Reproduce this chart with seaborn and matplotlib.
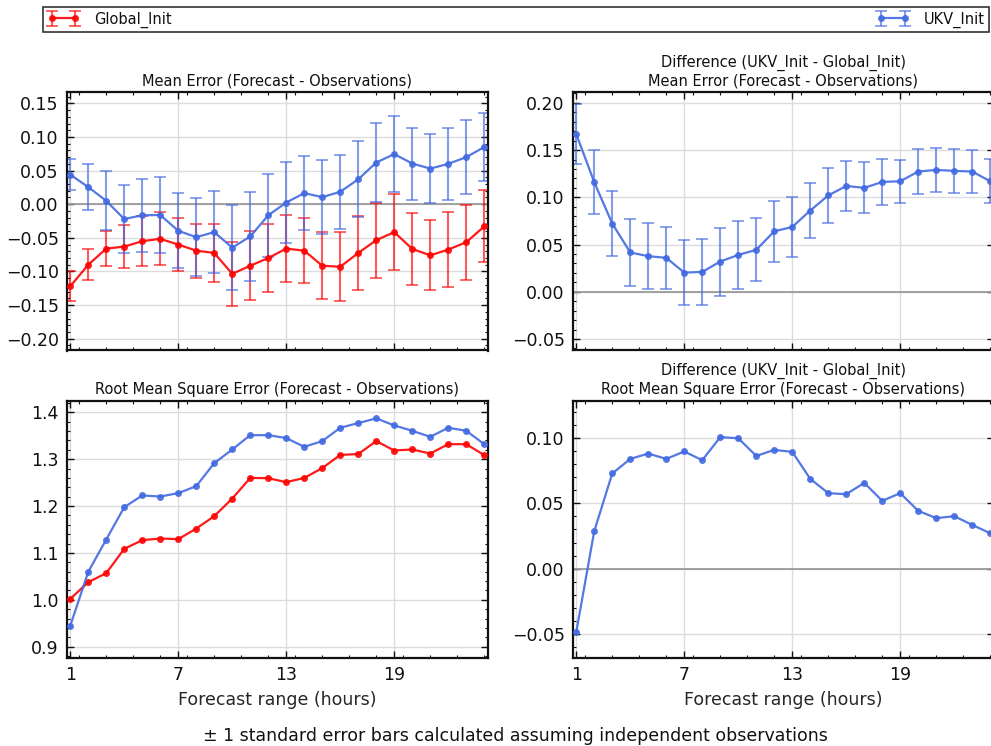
import numpy as np
import pandas as pd
import matplotlib
matplotlib.use("Agg")
import matplotlib.pyplot as plt
import seaborn as sns
from matplotlib.ticker import AutoMinorLocator, FixedLocator, MultipleLocator

# ---------------- data ----------------
hours = list(range(1, 25))
xtick_values = [1, 7, 13, 19]

me_global = [-0.122, -0.090, -0.066, -0.063, -0.055, -0.0515, -0.060, -0.069, -0.0725, -0.1035,
             -0.0915, -0.080, -0.066, -0.069, -0.0915, -0.093, -0.0725, -0.0535, -0.0415, -0.0665,
             -0.076, -0.0675, -0.0565, -0.033]
me_global_err = [0.022, 0.023, 0.026, 0.032, 0.037, 0.0395, 0.039, 0.040, 0.043, 0.048,
                 0.0515, 0.051, 0.050, 0.0485, 0.050, 0.0515, 0.0545, 0.056, 0.0565, 0.054,
                 0.052, 0.056, 0.056, 0.0535]
me_ukv = [0.044, 0.0255, 0.005, -0.022, -0.0165, -0.016, -0.0395, -0.049, -0.0415, -0.0645,
          -0.048, -0.0165, 0.0025, 0.0165, 0.0105, 0.0185, 0.037, 0.062, 0.0745, 0.0605,
          0.053, 0.060, 0.070, 0.085]
me_ukv_err = [0.023, 0.0345, 0.044, 0.050, 0.054, 0.056, 0.056, 0.058, 0.061, 0.063,
              0.066, 0.062, 0.060, 0.0555, 0.055, 0.055, 0.0565, 0.0585, 0.0565, 0.0535,
              0.051, 0.053, 0.0555, 0.0505]
me_diff = [0.167, 0.116, 0.0722, 0.0416, 0.0377, 0.0359, 0.0203, 0.021, 0.032, 0.039,
           0.0444, 0.064, 0.0686, 0.086, 0.102, 0.112, 0.110, 0.1163, 0.117, 0.1273,
           0.129, 0.128, 0.1273, 0.117]
me_diff_err = [0.032, 0.034, 0.0345, 0.035, 0.035, 0.033, 0.034, 0.0345, 0.036, 0.0356,
               0.0334, 0.032, 0.032, 0.0295, 0.029, 0.0267, 0.027, 0.0245, 0.023, 0.024,
               0.0235, 0.023, 0.0224, 0.0235]
rmse_global = [1.002, 1.0377, 1.0569, 1.1088, 1.1273, 1.1308, 1.1294, 1.152, 1.1785, 1.216,
               1.260, 1.2595, 1.251, 1.260, 1.281, 1.309, 1.311, 1.3385, 1.3185, 1.3207,
               1.312, 1.332, 1.332, 1.3086]
rmse_ukv = [0.9445, 1.0597, 1.1287, 1.1977, 1.2226, 1.2204, 1.2275, 1.2425, 1.2915, 1.3207,
            1.3512, 1.3512, 1.345, 1.3264, 1.3385, 1.367, 1.377, 1.387, 1.372, 1.3605,
            1.3477, 1.367, 1.3605, 1.332]
rmse_diff = [-0.0489, 0.0287, 0.073, 0.0842, 0.0883, 0.0842, 0.0899, 0.0832, 0.1009, 0.1001,
             0.0865, 0.0911, 0.0896, 0.0689, 0.0579, 0.0571, 0.0658, 0.052, 0.0579, 0.0443,
             0.0387, 0.0402, 0.0335, 0.0271]

# ---------------- style ----------------
sns.set_style("ticks")
plt.rcParams.update({
    "font.family": ["DejaVu Sans"],
    "xtick.direction": "in", "ytick.direction": "in",
    "xtick.top": True, "ytick.right": True,
    "xtick.major.size": 5, "ytick.major.size": 5,
    "xtick.minor.size": 2.5, "ytick.minor.size": 2.5,
    "xtick.major.width": 1, "ytick.major.width": 1,
    "xtick.minor.width": 0.8, "ytick.minor.width": 0.8,
    "xtick.color": "#111111", "ytick.color": "#111111",
    "axes.edgecolor": "#111111", "axes.linewidth": 1.6,
    "axes.unicode_minus": True,
    "text.color": "#111111",
})

RED = "#ff0000"
BLUE = "#4169e1"

W, H = 991, 746
fig = plt.figure(figsize=(W / 100, H / 100), dpi=100)

def rect(l, t, r, b):
    return [l / W, 1 - b / H, (r - l) / W, (b - t) / H]

ax_tl = fig.add_axes(rect(67, 92.3, 487.5, 350.5))
ax_tr = fig.add_axes(rect(573, 92.3, 993.5, 350.5))
ax_bl = fig.add_axes(rect(67, 400.7, 487.5, 658))
ax_br = fig.add_axes(rect(573, 400.7, 993.5, 658))

df = pd.DataFrame({
    "hour": hours,
    "me_global": me_global, "me_ukv": me_ukv, "me_diff": me_diff,
    "rmse_global": rmse_global, "rmse_ukv": rmse_ukv, "rmse_diff": rmse_diff,
})

def draw(ax, col, color, err=None):
    eb = None
    if err is not None:
        eb = ax.errorbar(df["hour"], df[col], yerr=err, fmt="none", ecolor=color,
                         alpha=0.65, elinewidth=1.5, capsize=4, capthick=1.3, zorder=2)
    sns.lineplot(data=df, x="hour", y=col, ax=ax, color=color, marker="o",
                 markersize=5, markeredgewidth=0, linewidth=1.6, alpha=0.9, zorder=3)
    return eb

eb_g = draw(ax_tl, "me_global", RED, me_global_err)
eb_u = draw(ax_tl, "me_ukv", BLUE, me_ukv_err)
draw(ax_tr, "me_diff", BLUE, me_diff_err)
draw(ax_bl, "rmse_global", RED)
draw(ax_bl, "rmse_ukv", BLUE)
draw(ax_br, "rmse_diff", BLUE)

ylims = {ax_tl: (-0.2175, 0.1664), ax_tr: (-0.0622, 0.2112),
         ax_bl: (0.876, 1.4247), ax_br: (-0.0687, 0.1289)}
ymaj = {ax_tl: 0.05, ax_tr: 0.05, ax_bl: 0.1, ax_br: 0.05}

for ax in [ax_tl, ax_tr, ax_bl, ax_br]:
    ax.set_xlim(0.82, 24.18)
    ax.set_ylim(*ylims[ax])
    ax.xaxis.set_major_locator(FixedLocator(xtick_values))
    ax.xaxis.set_minor_locator(MultipleLocator(1.5))
    ax.yaxis.set_major_locator(MultipleLocator(ymaj[ax]))
    ax.yaxis.set_minor_locator(AutoMinorLocator(5))
    ax.grid(True, which="major", color="#dcdcdc", linewidth=1, zorder=0)
    ax.set_axisbelow(True)
    ax.tick_params(axis="both", which="major", labelsize=12.5, pad=6)
    ax.tick_params(axis="x", which="major", pad=6)
    ax.set_ylabel("")
    ax.set_xlabel("")
    if ax is not ax_bl:
        ax.axhline(0, color="#9a9a9a", linewidth=1.3, zorder=1)

for ax in (ax_tl, ax_tr):
    ax.tick_params(axis="x", labelbottom=False)

TFS = 10.5
ax_tl.set_title("Mean Error (Forecast - Observations)", fontsize=TFS, pad=5)
ax_tr.set_title("Difference (UKV_Init - Global_Init)\nMean Error (Forecast - Observations)",
                fontsize=TFS, pad=5)
ax_bl.set_title("Root Mean Square Error (Forecast - Observations)", fontsize=TFS, pad=5)
ax_br.set_title("Difference (UKV_Init - Global_Init)\nRoot Mean Square Error (Forecast - Observations)",
                fontsize=TFS, pad=5)

for ax in (ax_bl, ax_br):
    ax.set_xlabel("Forecast range (hours)", fontsize=12.5, labelpad=5)

# legend
lines = ax_tl.get_lines()
line_g = [l for l in lines if l.get_color() == RED][0]
line_u = [l for l in lines if l.get_color() == BLUE][0]
leg = fig.legend(handles=[(eb_g, line_g), (eb_u, line_u)], labels=["Global_Init", "UKV_Init"],
                 loc="lower left", bbox_to_anchor=(43 / W, 1 - 32 / H, (989 - 43) / W, 25 / H),
                 mode="expand", ncol=2, fontsize=10.5, frameon=True, fancybox=False,
                 borderaxespad=0, numpoints=2, handlelength=2.2, handletextpad=1.0,
                 borderpad=0.3)
leg.get_frame().set_edgecolor("black")
leg.get_frame().set_linewidth(1.2)

fig.text(515 / W, 1 - 736 / H,
         "\u00b1 1 standard error bars calculated assuming independent observations",
         ha="center", va="center", fontsize=12.5)

fig.savefig("out.png", dpi=100)
